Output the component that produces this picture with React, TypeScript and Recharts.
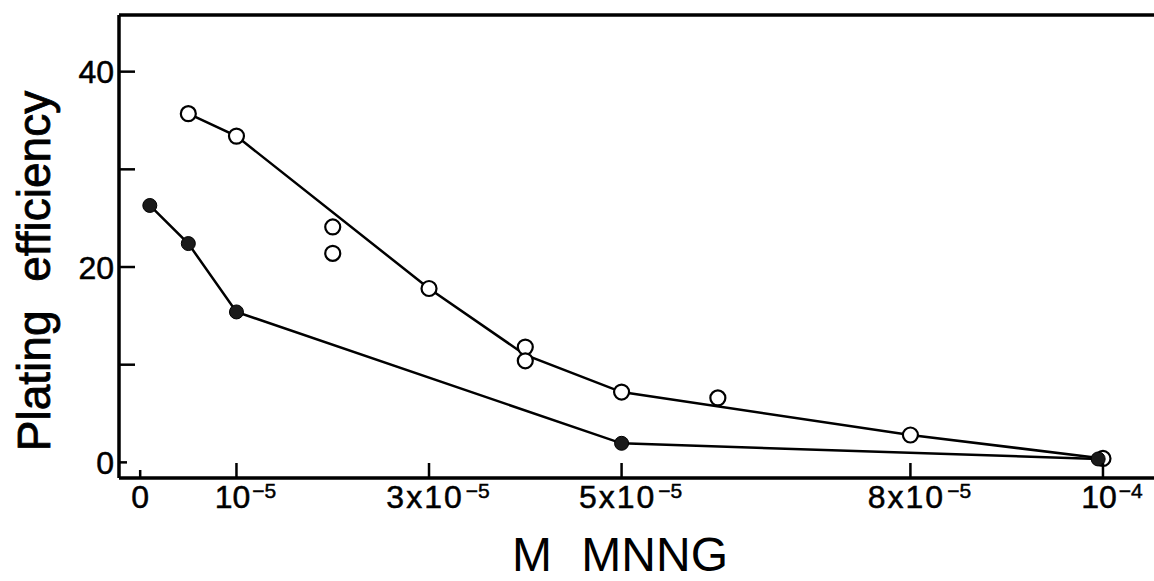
import { ComposedChart, Line, Scatter, XAxis, YAxis, ReferenceLine, Label } from 'recharts'

// concentration is kept in units of 1e-5 M; tick labels restore the exponent
const filledConc = [0.1, 0.5, 1, 5, 9.95]
const filledPE = [26.3, 22.4, 15.4, 1.95, 0.35]

const openConc = [0.5, 1, 2, 2, 3, 4, 4, 5, 6, 8, 10]
const openPE = [35.7, 33.4, 24.1, 21.4, 17.8, 11.8, 10.4, 7.2, 6.6, 2.8, 0.4]

// smoothed curve drawn through the open-circle series
const fitConc = [0.5, 1, 3, 4, 5, 8, 10]
const fitPE = [35.7, 33.4, 17.8, 11.0, 7.2, 2.8, 0.4]

const xTicks = [0, 1, 3, 5, 8, 10]
const xTickBase = ['0', '10', '3x10', '5x10', '8x10', '10']
const xTickExp = ['', '−5', '−5', '−5', '−5', '−4']

const yTicks = [0, 10, 20, 30, 40]
const yTickText = ['0', '', '20', '', '40']

const X_DOMAIN: [number, number] = [-0.22, 10.53]
const Y_DOMAIN: [number, number] = [-1.6, 45.8]

const filled = filledConc.map((conc, i) => ({ conc, pe: filledPE[i] }))
const open = openConc.map((conc, i) => ({ conc, pe: openPE[i] }))
const fit = fitConc.map((conc, i) => ({ conc, pe: fitPE[i] }))

const FONT = "'Liberation Sans', Arial, sans-serif"

function XTick(props: any) {
  const { x, y, payload } = props
  const i = xTicks.indexOf(payload.value)
  const len = payload.value === 0 ? 8 : 15
  const exp = xTickExp[i]
  return (
    <g>
      <line x1={x} x2={x} y1={y} y2={y - len} stroke="#000" strokeWidth={2.5} />
      <text x={x + (exp ? 9 : 0)} y={y + 30} textAnchor="middle" fontSize={32}
        letterSpacing={xTickBase[i].length > 2 ? 2 : 0}
        fontFamily={FONT} fill="#000" stroke="#000" strokeWidth={0.5}>
        {xTickBase[i]}
        {exp && <tspan dx={2} dy={-10} fontSize={21} letterSpacing={0}>{exp}</tspan>}
      </text>
    </g>
  )
}

function YTick(props: any) {
  const { x, y, payload } = props
  const i = yTicks.indexOf(payload.value)
  const len = payload.value === 0 ? 8 : 16
  return (
    <g>
      <line x1={x} x2={x + len} y1={y} y2={y} stroke="#000" strokeWidth={2.5} />
      {yTickText[i] && (
        <text x={x - 5} y={y} dy="0.36em" textAnchor="end" fontSize={32}
          fontFamily={FONT} fill="#000" stroke="#000" strokeWidth={0.5}>
          {yTickText[i]}
        </text>
      )}
    </g>
  )
}

const OpenCircle = (props: any) => (
  <circle cx={props.cx} cy={props.cy} r={7.5} fill="#fff" stroke="#000" strokeWidth={2.2} />
)

export default function App() {
  return (
    <div style={{ position: 'absolute', left: 0, top: 0, background: '#fff' }}>
      <ComposedChart width={1154} height={581} margin={{ top: 15, right: 0, left: 0, bottom: 0 }}>
        <XAxis
          type="number" dataKey="conc" domain={X_DOMAIN} ticks={xTicks} interval={0}
          allowDataOverflow height={103} tickSize={0} tickMargin={0} tickLine={false}
          axisLine={{ stroke: '#000', strokeWidth: 3.5 }} tick={<XTick />}
        >
          <Label
            content={() => (
              <text x={620} y={571} textAnchor="middle" fontSize={48} wordSpacing={16}
                fontFamily={FONT} fill="#000">
                M MNNG
              </text>
            )}
          />
        </XAxis>
        <YAxis
          type="number" dataKey="pe" domain={Y_DOMAIN} ticks={yTicks} interval={0}
          allowDataOverflow width={119} tickSize={0} tickMargin={0} tickLine={false}
          axisLine={{ stroke: '#000', strokeWidth: 3.5 }} tick={<YTick />}
        >
          <Label
            content={() => (
              <text transform="translate(50, 271) rotate(-90)" textAnchor="middle" fontSize={46}
                wordSpacing={16} fontFamily={FONT} fill="#000" stroke="#000" strokeWidth={0.8}>
                Plating efficiency
              </text>
            )}
          />
        </YAxis>
        <ReferenceLine y={Y_DOMAIN[1]} stroke="#000" strokeWidth={3.5} />
        <Line data={fit} dataKey="pe" stroke="#000" strokeWidth={2.5} dot={false}
          isAnimationActive={false} />
        <Scatter data={open} dataKey="pe" shape={OpenCircle} isAnimationActive={false} />
        <Line data={filled} dataKey="pe" stroke="#000" strokeWidth={2.5}
          dot={{ r: 7, fill: '#1a1a1a', stroke: '#000', strokeWidth: 1 }} isAnimationActive={false} />
      </ComposedChart>
    </div>
  )
}
